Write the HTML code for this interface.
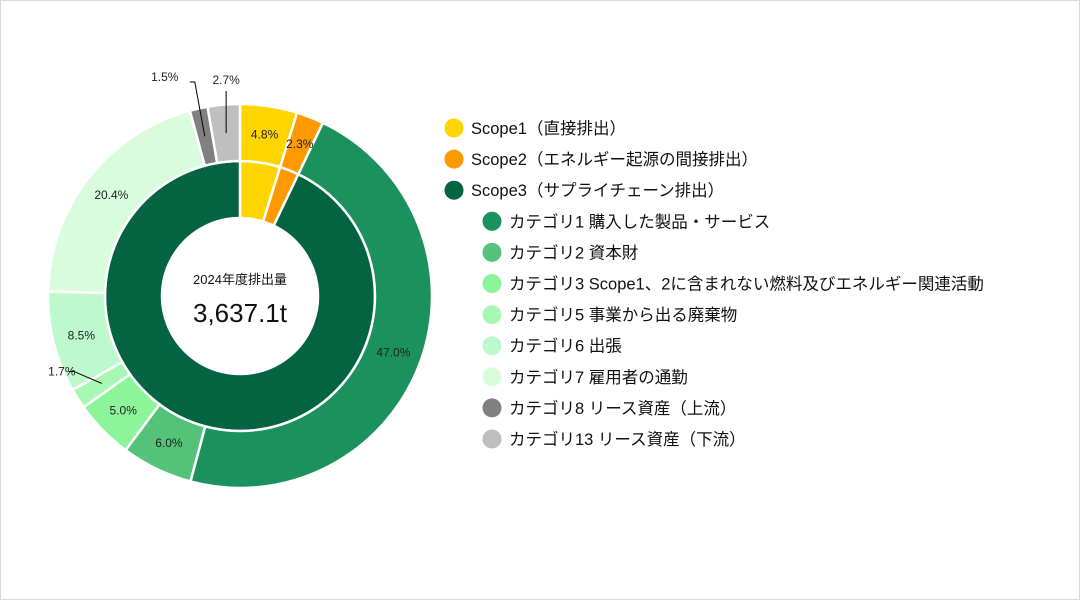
<!DOCTYPE html>
<html><head><meta charset="utf-8">
<style>
html,body{margin:0;padding:0;background:#fff;}
#wrap{width:1078px;height:598px;border:1px solid #d9d9d9;position:relative;overflow:hidden;}
svg{position:absolute;left:0;top:0;}
text{font-family:"Liberation Sans","Noto Sans CJK JP",sans-serif;}
</style></head>
<body>
<div id="wrap">
<svg id="chart" width="1080" height="600"></svg>
</div>
<script>
const outerLabels=["Scope1（直接排出）","Scope2（エネルギー起源の間接排出）","カテゴリ1 購入した製品・サービス","カテゴリ2 資本財","カテゴリ3 Scope1、2に含まれない燃料及びエネルギー関連活動","カテゴリ5 事業から出る廃棄物","カテゴリ6 出張","カテゴリ7 雇用者の通勤","カテゴリ8 リース資産（上流）","カテゴリ13 リース資産（下流）"];
const outerValues=[4.8,2.3,47.0,6.0,5.0,1.7,8.5,20.4,1.5,2.7];
const outerColors=["#FFD500","#FF9900","#1B925E","#55C27A","#8CF59A","#A8F7B2","#BDF9CC","#D9FDDC","#808080","#BFBFBF"];
const innerLabels=["Scope1（直接排出）","Scope2（エネルギー起源の間接排出）","Scope3（サプライチェーン排出）"];
const innerValues=[4.8,2.3,92.8];
const innerColors=["#FFD500","#FF9900","#046442"];
const legendLabels=["Scope1（直接排出）","Scope2（エネルギー起源の間接排出）","Scope3（サプライチェーン排出）","カテゴリ1 購入した製品・サービス","カテゴリ2 資本財","カテゴリ3 Scope1、2に含まれない燃料及びエネルギー関連活動","カテゴリ5 事業から出る廃棄物","カテゴリ6 出張","カテゴリ7 雇用者の通勤","カテゴリ8 リース資産（上流）","カテゴリ13 リース資産（下流）"];
const legendColors=["#FFD500","#FF9900","#046442","#1B925E","#55C27A","#8CF59A","#A8F7B2","#BDF9CC","#D9FDDC","#808080","#BFBFBF"];
const legendIndent=[0,0,0,1,1,1,1,1,1,1,1];
const totalLabel="2024年度排出量";
const totalValue="3,637.1t";

const NS="http://www.w3.org/2000/svg";
const svg=document.getElementById('chart');
const cx=239,cy=295,R0=78,R1=135,R2=192;
function pt(r,a){return [cx+r*Math.sin(a),cy-r*Math.cos(a)];}
function arc(r0,r1,a0,a1){
  const big=(a1-a0)>Math.PI?1:0;
  const p0=pt(r1,a0),p1=pt(r1,a1),p2=pt(r0,a1),p3=pt(r0,a0);
  return `M${p0[0]},${p0[1]}A${r1},${r1} 0 ${big} 1 ${p1[0]},${p1[1]}L${p2[0]},${p2[1]}A${r0},${r0} 0 ${big} 0 ${p3[0]},${p3[1]}Z`;
}
function mk(tag,attrs){const e=document.createElementNS(NS,tag);for(const k in attrs)e.setAttribute(k,attrs[k]);return e;}
function ring(values,colors,labels,r0,r1,prefix){
  const tot=values.reduce((a,b)=>a+b,0);let a=0;const mids=[];
  values.forEach((v,i)=>{
    const a1=a+v/tot*2*Math.PI;
    const p=mk('path',{d:arc(r0,r1,a,a1),fill:colors[i],stroke:'#fff','stroke-width':2.5});
    
    
    svg.appendChild(p);mids.push((a+a1)/2);a=a1;
  });
  return mids;
}
ring(innerValues,innerColors,innerLabels,R0,R1,'inner');
const mids=ring(outerValues,outerColors,outerLabels,R1,R2,'outer');
outerValues.forEach((v,i)=>{
  const txt=v.toFixed(1)+'%';
  let x,y,lead=null;
  const pin=pt((R1+R2)/2,mids[i]);
  if(v<2){
    const pe=pt(R2+(mids[i]>Math.PI*1.5?40:45),mids[i]);
    if(mids[i]>Math.PI*1.8){x=pin[0]-40;y=cy-215;lead=[pin,[pin[0]-10,cy-214],[pin[0]-15,cy-214]];}
    else{x=pin[0]-40;y=pin[1]-8;lead=[pin,[pin[0]-28,pin[1]-12],[pin[0]-33,pin[1]-12]];}
  }else if(v<3&&mids[i]>Math.PI){x=pin[0];y=cy-212;lead=[pin,[pin[0],cy-205]];}
  else{x=pin[0];y=pin[1]+4;}
  if(lead){
    const l=mk('polyline',{points:lead.map(p=>p.join(',')).join(' '),fill:'none',stroke:'#000','stroke-width':1});
    
    
    svg.appendChild(l);
  }
  const t=mk('text',{x:x,y:y,'font-size':12,fill:'#222','text-anchor':'middle'});
  
  
  t.textContent=txt;svg.appendChild(t);
});
const c1=mk('text',{x:cx,y:cy-12,'font-size':13,fill:'#111','text-anchor':'middle'});


c1.textContent=totalLabel;svg.appendChild(c1);
const c2=mk('text',{x:cx,y:cy+26,'font-size':26,fill:'#111','text-anchor':'middle'});


c2.textContent=totalValue;svg.appendChild(c2);
legendLabels.forEach((s,i)=>{
  const y=127+i*31.1,ind=legendIndent[i]*38;
  const g=mk('g',{});
  
  
  const c=mk('circle',{cx:453+ind,cy:y,r:9.5,fill:legendColors[i]});
  
  
  const t=mk('text',{x:470+ind,y:y+6,'font-size':16.5,fill:'#111'});
  
  
  t.textContent=s;g.appendChild(c);g.appendChild(t);svg.appendChild(g);
});
</script>
</body></html>
